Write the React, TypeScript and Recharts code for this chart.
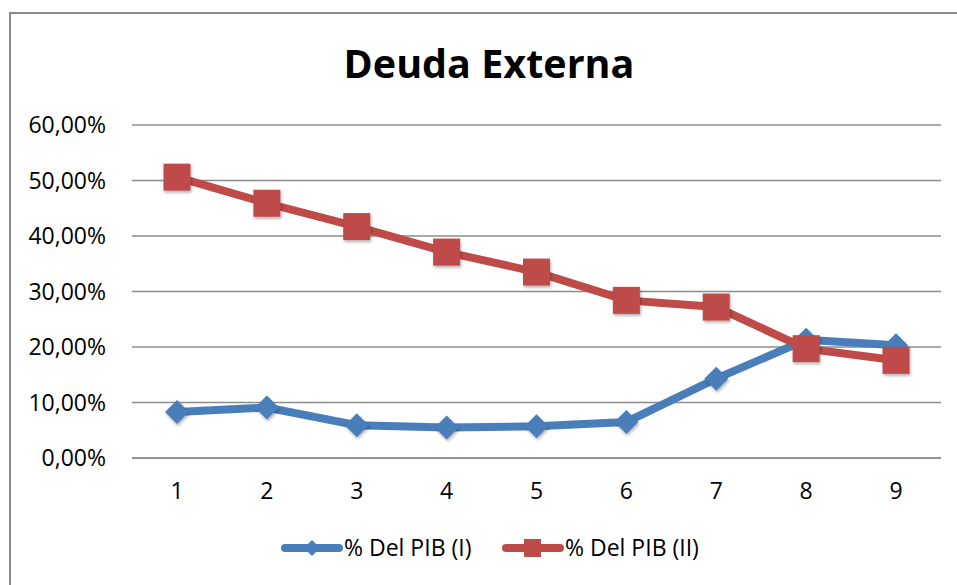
import { LineChart, Line, XAxis, YAxis, CartesianGrid } from 'recharts';

const years = ['1', '2', '3', '4', '5', '6', '7', '8', '9'];
const pibI = [8.3, 9.1, 5.9, 5.5, 5.7, 6.5, 14.3, 21.3, 20.3];
const pibII = [50.6, 45.9, 41.7, 37.1, 33.5, 28.4, 27.2, 19.7, 17.6];
const yTicks = [0, 10, 20, 30, 40, 50, 60];

const BLUE = '#4a7ebb';
const RED = '#be4b48';
const FONT = '"Open Sans", sans-serif';

const data = years.map((year, i) => ({ year, pibI: pibI[i], pibII: pibII[i] }));

const fmtPct = (v: number) => `${v.toFixed(2).replace('.', ',')}%`;

const Diamond = (props: any) => {
  const { cx, cy } = props;
  if (cx == null || cy == null) return null;
  const r = 12;
  return (
    <polygon
      points={`${cx},${cy - r} ${cx + r},${cy} ${cx},${cy + r} ${cx - r},${cy}`}
      fill={BLUE}
      filter="url(#mkShadow)"
    />
  );
};

const Square = (props: any) => {
  const { cx, cy } = props;
  if (cx == null || cy == null) return null;
  const s = 13.5;
  return <rect x={cx - s} y={cy - s} width={s * 2} height={s * 2} fill={RED} filter="url(#mkShadow)" />;
};

// legend drawn by hand, Excel style: line with marker in the middle
const ChartLegend = () => {
  const items = [
    { label: '% Del PIB (I)', color: BLUE, shape: 'diamond', x: 282 },
    { label: '% Del PIB (II)', color: RED, shape: 'square', x: 503 },
  ];
  return (
    <svg width={957} height={40} style={{ position: 'absolute', left: 0, top: 528 }}>
      {items.map((it) => (
        <g key={it.label}>
          <line x1={it.x + 3} y1={20} x2={it.x + 57} y2={20} stroke={it.color} strokeWidth={8} strokeLinecap="round" />
          {it.shape === 'diamond' ? (
            <polygon
              points={`${it.x + 30},${12} ${it.x + 38},${20} ${it.x + 30},${28} ${it.x + 22},${20}`}
              fill={it.color}
            />
          ) : (
            <rect x={it.x + 21} y={11} width={17} height={18} fill={it.color} />
          )}
          <text x={it.x + 62} y={28} fontSize={23} fontFamily={FONT} fill="#000">
            {it.label}
          </text>
        </g>
      ))}
    </svg>
  );
};

export default function App() {
  return (
    <div style={{ position: 'absolute', left: 0, top: 0, width: 957, height: 585, background: '#fff', overflow: 'hidden' }}>
      <div
        style={{
          position: 'absolute',
          left: 9,
          top: 12,
          width: 1000,
          height: 700,
          border: '2px solid #8a8a8a',
          boxSizing: 'border-box',
        }}
      />
      <div
        style={{
          position: 'absolute',
          left: 0,
          width: 978,
          top: 36,
          textAlign: 'center',
          fontFamily: FONT,
          fontWeight: 700,
          fontSize: 39.5,
          color: '#000',
        }}
      >
        Deuda Externa
      </div>
      <div style={{ position: 'absolute', left: 0, top: 0 }}>
        <LineChart width={957} height={585} data={data} margin={{ top: 125, right: 16, bottom: 97, left: 0 }}>
          <defs>
            <filter id="mkShadow" x="-50%" y="-50%" width="200%" height="200%">
              <feDropShadow dx="1" dy="2" stdDeviation="1.5" floodColor="#000" floodOpacity="0.3" />
            </filter>
          </defs>
          <CartesianGrid vertical={false} stroke="#8c8c8c" strokeWidth={1.5} />
          <XAxis
            dataKey="year"
            padding={{ left: 45, right: 45 }}
            axisLine={{ stroke: '#8c8c8c', strokeWidth: 1.5 }}
            tickLine={false}
            tickMargin={19}
            tick={{ fontSize: 23, fill: '#000', fontFamily: FONT }}
          />
          <YAxis
            width={132}
            domain={[0, 60]}
            ticks={yTicks}
            tickFormatter={fmtPct}
            axisLine={false}
            tickLine={false}
            tickMargin={20}
            tick={{ fontSize: 23, fill: '#000', fontFamily: FONT }}
          />
          <Line
            dataKey="pibI"
            stroke={BLUE}
            strokeWidth={8}
            dot={<Diamond />}
            activeDot={false}
            isAnimationActive={false}
          />
          <Line
            dataKey="pibII"
            stroke={RED}
            strokeWidth={8}
            dot={<Square />}
            activeDot={false}
            isAnimationActive={false}
          />
        </LineChart>
      </div>
      <ChartLegend />
    </div>
  );
}
